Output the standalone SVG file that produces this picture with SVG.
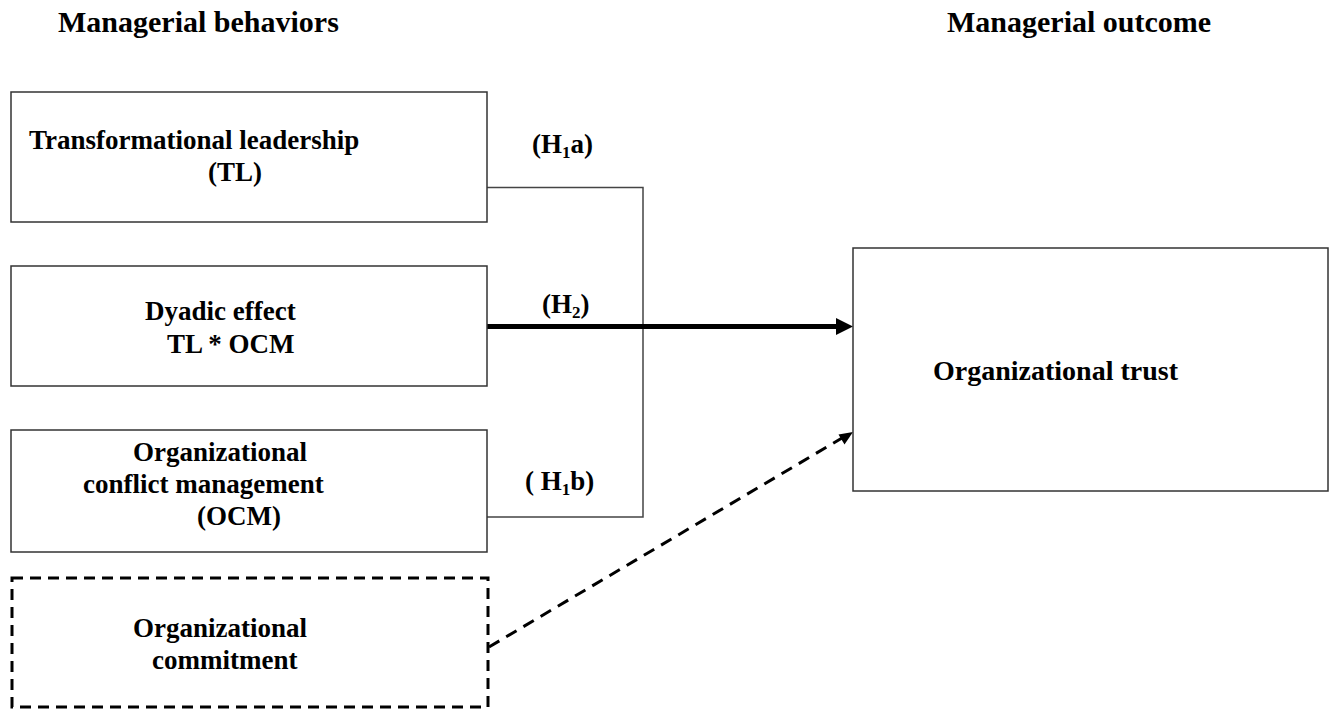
<svg xmlns="http://www.w3.org/2000/svg" width="1330" height="710" viewBox="0 0 1330 710">
<style>
text{font-family:'Liberation Serif','Times New Roman','DejaVu Serif',serif;font-weight:700;fill:#000}
.hd{font-size:30px}
.t{font-size:27px}
.box{fill:#fff;stroke:#333;stroke-width:1.5}
.dbox{fill:#fff;stroke:#000;stroke-width:3;stroke-dasharray:11 7}
.conn{fill:none;stroke:#444;stroke-width:1.5}
.sub{font-size:17px}
</style>
<rect width="1330" height="710" fill="#fff"/>
<text class="hd" x="58" y="32" font-family="Liberation Serif, serif">Managerial behaviors</text>
<text class="hd" x="947" y="32" font-family="Liberation Serif, serif">Managerial outcome</text>
<g id="connectors">
<polyline class="conn" points="487,187.5 643,187.5 643,517 487,517"/>
<line x1="487" y1="326.5" x2="838" y2="326.5" stroke="#000" stroke-width="5"/>
<path d="M836,318 L853,326.5 L836,335 z" fill="#000"/>
<line x1="489" y1="647" x2="842" y2="438" stroke="#000" stroke-width="3" stroke-dasharray="12 8"/>
<path d="M853,432 L838.5,434.5 L844.5,444.5 z" fill="#000"/>
<text class="t" x="532" y="153">(H<tspan class="sub" dy="5">1</tspan><tspan dy="-5">a)</tspan></text>
<text class="t" x="542" y="313">(H<tspan class="sub" dy="5">2</tspan><tspan dy="-5">)</tspan></text>
<text class="t" x="525" y="490">( H<tspan class="sub" dy="5">1</tspan><tspan dy="-5">b)</tspan></text>
</g>
<g id="node-tl">
<rect class="box" x="11" y="92" width="476" height="130"/>
<text class="t" x="29" y="149">Transformational leadership</text>
<text class="t" x="208" y="181">(TL)</text>
</g>
<g id="node-dyadic">
<rect class="box" x="11" y="266" width="476" height="120"/>
<text class="t" x="145" y="320">Dyadic effect</text>
<text class="t" x="167" y="353">TL * OCM</text>
</g>
<g id="node-ocm">
<rect class="box" x="11" y="430" width="476" height="122"/>
<text class="t" x="133" y="461">Organizational</text>
<text class="t" x="83" y="493">conflict management</text>
<text class="t" x="197" y="525">(OCM)</text>
</g>
<g id="node-oc">
<rect class="dbox" x="12" y="578" width="476" height="129"/>
<text class="t" x="133" y="637">Organizational</text>
<text class="t" x="152" y="669">commitment</text>
</g>
<g id="node-trust">
<rect class="box" x="853" y="248" width="475" height="243"/>
<text class="t" x="933" y="380" style="font-size:28px">Organizational trust</text>
</g>
</svg>
